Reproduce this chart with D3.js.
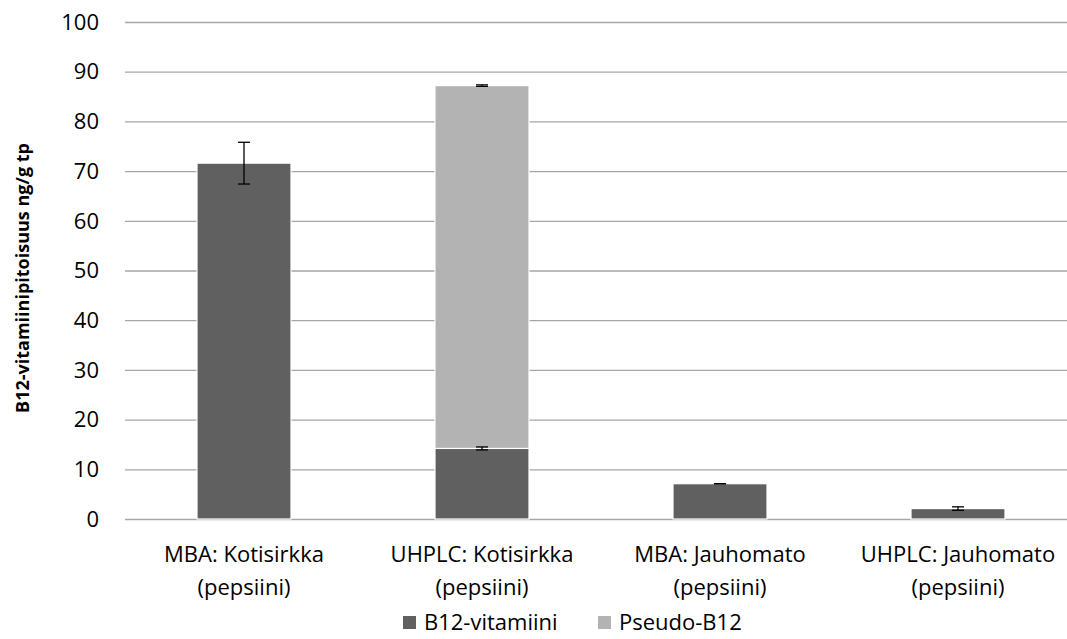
<!DOCTYPE html>
<html><head><meta charset="utf-8">
<script src="https://cdn.jsdelivr.net/npm/d3@7"></script>
<style>body{margin:0;background:#fff}svg{display:block}text{font-family:"Open Sans",sans-serif;fill:#000}</style>
</head><body><svg id="c" width="1067" height="639"></svg>
<script>
const categories = ["MBA: Kotisirkka|(pepsiini)", "UHPLC: Kotisirkka|(pepsiini)", "MBA: Jauhomato|(pepsiini)", "UHPLC: Jauhomato|(pepsiini)"];
const seriesNames = ["B12-vitamiini", "Pseudo-B12"];
const b12Values = [71.6, 14.2, 7.1, 2.1];
const pseudoValues = [0, 73.0, 0, 0];
const b12Errors = [4.2, 0.3, 0.0, 0.35];
const totalErrors = [0, 0.15, 0.15, 0];
const yTicks = [0, 10, 20, 30, 40, 50, 60, 70, 80, 90, 100];
const colors = ["#606060", "#b3b3b3"];

const svg = d3.select("#c");
const y = d3.scaleLinear().domain([0, 100]).range([519, 22]);
const x = d3.scaleBand().domain(categories).range([125, 1077]).padding(0);
const barW = x.bandwidth() * 0.395;

// gridlines
svg.append("g").selectAll("line").data(yTicks).join("line")
  .attr("x1", 125).attr("x2", 1077)
  .attr("y1", d => y(d) + 0.5).attr("y2", d => y(d) + 0.5)
  .attr("stroke", "#a6a6a6").attr("stroke-width", 1.3);

// y tick labels
svg.append("g").selectAll("text").data(yTicks).join("text")
  .attr("x", 99).attr("y", d => y(d)).attr("dy", "0.35em")
  .attr("text-anchor", "end").style("font-size", "22px").text(d => d);

const data = categories.map((c, i) => ({c, b12: b12Values[i], ps: pseudoValues[i]}));
const stack = d3.stack().keys(["b12", "ps"])(data);

svg.append("g").selectAll("g").data(stack).join("g")
  .attr("fill", (d, i) => colors[i])
  .selectAll("rect").data(d => d.filter(p => p[1] - p[0] > 0)).join("rect")
  .attr("x", d => x(d.data.c) + x.bandwidth() / 2 - barW / 2)
  .attr("width", barW)
  .attr("y", d => y(d[1]))
  .attr("height", d => y(d[0]) - y(d[1]))
  .attr("stroke", "#ffffff").attr("stroke-width", 1.2);

// error bars
function errBars(vals, errs, cap) {
  const g = svg.append("g").attr("stroke", "#000").attr("stroke-width", 1.3);
  vals.forEach((v, i) => {
    const cx = x(categories[i]) + x.bandwidth() / 2;
    const e = errs[i];
    if (v <= 0) return;
    g.append("line").attr("x1", cx).attr("x2", cx).attr("y1", y(v + e)).attr("y2", y(v - e));
    [v + e, v - e].forEach(t => g.append("line").attr("x1", cx - cap / 2).attr("x2", cx + cap / 2).attr("y1", y(t)).attr("y2", y(t)));
  });
}
errBars(b12Values, b12Errors, 12);
errBars(data.map(d => d.ps > 0 ? d.b12 + d.ps : 0), totalErrors, 12);

// x labels
const xl = svg.append("g").selectAll("text").data(categories).join("text")
  .attr("x", d => x(d) + x.bandwidth() / 2).attr("y", 562)
  .attr("text-anchor", "middle").style("font-size", "22px");
xl.selectAll("tspan").data(d => d.split("|")).join("tspan")
  .attr("x", function() { return d3.select(this.parentNode).attr("x"); })
  .attr("dy", (d, i) => i === 0 ? 0 : "1.5em").text(d => d);

// y title
svg.append("text").attr("transform", "translate(29,278) rotate(-90)")
  .attr("text-anchor", "middle").style("font-size", "18px").style("font-weight", "bold")
  .text("B12-vitamiinipitoisuus ng/g tp");

// legend
const legX = [403, 598];
const lg = svg.append("g").selectAll("g").data(seriesNames).join("g")
  .attr("transform", (d, i) => `translate(${legX[i]},616)`);
lg.append("rect").attr("width", 13).attr("height", 13).attr("fill", (d, i) => colors[i]);
lg.append("text").attr("x", 21).attr("y", 6.5).attr("dy", "0.35em").style("font-size", "22px").text(d => d);
</script></body></html>
